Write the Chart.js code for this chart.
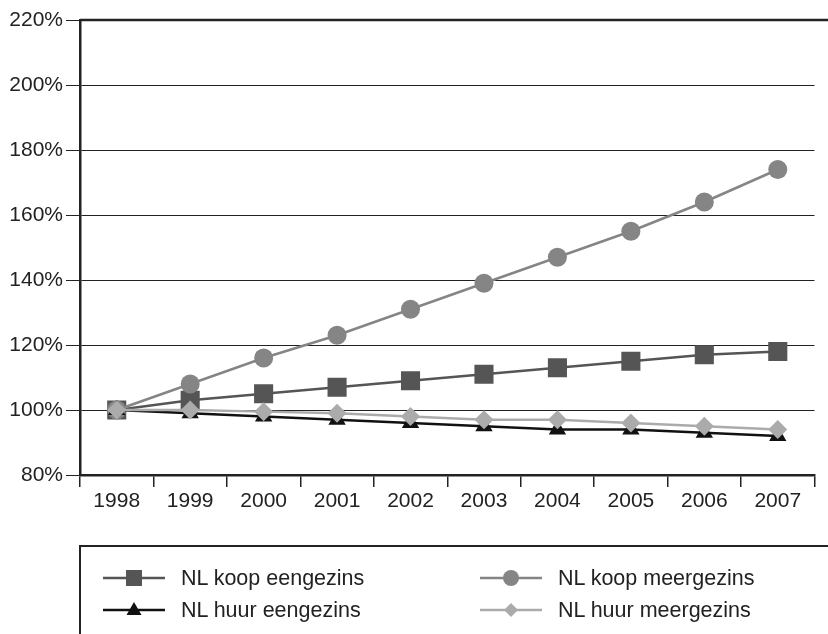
<!DOCTYPE html>
<html>
<head>
<meta charset="utf-8">
<script src="https://cdn.jsdelivr.net/npm/chart.js@4/dist/chart.umd.min.js"></script>
<style>
  html, body { margin:0; padding:0; background:#fff; }
  #wrap { position:relative; width:828px; height:634px; overflow:hidden; font-family:"Liberation Sans", Arial, sans-serif; }
  #c { position:absolute; left:0; top:0; }
  #legend { position:absolute; left:79px; top:545px; width:760px; height:100px; border-top:2px solid #222; border-left:2px solid #222; }
  .item { position:absolute; height:26px; display:flex; align-items:center; font-size:21.5px; color:#222; }
  .item svg { margin-right:16px; }
</style>
</head>
<body>
<div id="wrap">
  <canvas id="c" width="828" height="634"></canvas>
  <div id="legend"></div>
</div>
<script>
const years = ['1998','1999','2000','2001','2002','2003','2004','2005','2006','2007'];
const koopEengezins = [100, 103, 105, 107, 109, 111, 113, 115, 117, 118];
const koopMeergezins = [100, 108, 116, 123, 131, 139, 147, 155, 164, 174];
const huurEengezins = [100, 99, 98, 97, 96, 95, 94, 94, 93, 92];
const huurMeergezins = [100, 100, 99.5, 99, 98, 97, 97, 96, 95, 94];
const yTicks = [80, 100, 120, 140, 160, 180, 200, 220];

const series = [
  { label:'NL koop eengezins', data:koopEengezins, color:'#555555', style:'rect', radius:13.5, order:3 },
  { label:'NL koop meergezins', data:koopMeergezins, color:'#858585', style:'circle', radius:9.5, order:2 },
  { label:'NL huur eengezins', data:huurEengezins, color:'#111111', style:'triangle', radius:10, order:1 },
  { label:'NL huur meergezins', data:huurMeergezins, color:'#ababab', style:'rectRot', radius:9.5, order:0 }
];

const FONT = '"Liberation Sans", Arial, sans-serif';

const topBorder = {
  id:'topBorder',
  afterDraw(chart){
    const c = chart.ctx, a = chart.chartArea, y = chart.scales.y.getPixelForValue(220);
    c.save();
    c.strokeStyle = '#222'; c.lineWidth = 2.5;
    c.beginPath(); c.moveTo(a.left, y); c.lineTo(chart.width, y); c.stroke();
    c.restore();
  }
};

const ctx = document.getElementById('c').getContext('2d');
new Chart(ctx, {
  type:'line',
  data:{
    labels: years,
    datasets: series.map(s => ({
      label:s.label, data:s.data, borderColor:s.color, backgroundColor:s.color,
      pointStyle:s.style, pointRadius:s.radius, pointHoverRadius:s.radius,
      pointBorderWidth:0, borderWidth:2.5, tension:0, order:s.order
    }))
  },
  plugins:[topBorder],
  options:{
    responsive:false, animation:false,
    layout:{ padding:{ top:20, right:0, left:0, bottom:0 } },
    plugins:{ legend:{ display:false }, tooltip:{ enabled:false } },
    scales:{
      x:{
        offset:true,
        grid:{ offset:true, drawOnChartArea:false, drawTicks:true, tickLength:12, color:'#222', lineWidth:1.5 },
        border:{ display:true, color:'#222', width:2.5 },
        ticks:{ font:{ family:FONT, size:21 }, color:'#222', padding:2, maxRotation:0 },
        afterFit:(s)=>{ s.height = 159; }
      },
      y:{
        min:80, max:220,
        afterBuildTicks:(s)=>{ s.ticks = yTicks.map(v=>({value:v})); },
        grid:{ color:'#222', lineWidth:1, tickLength:14 },
        border:{ display:true, color:'#222', width:2.5 },
        ticks:{ font:{ family:FONT, size:21 }, color:'#222', padding:3, callback:(v)=> v + '%' },
        afterFit:(s)=>{ s.width = 80; }
      }
    }
  }
});

// HTML legend
function symbol(s){
  const w = 62, h = 24, cx = 31, cy = 12;
  let m = '';
  if (s.style === 'rect') m = `<rect x="${cx-8}" y="${cy-8}" width="16" height="16" fill="${s.color}"/>`;
  else if (s.style === 'circle') m = `<circle cx="${cx}" cy="${cy}" r="8" fill="${s.color}"/>`;
  else if (s.style === 'triangle') m = `<polygon points="${cx},${cy-8} ${cx+7.5},${cy+5} ${cx-7.5},${cy+5}" fill="${s.color}"/>`;
  else m = `<polygon points="${cx},${cy-7} ${cx+7},${cy} ${cx},${cy+7} ${cx-7},${cy}" fill="${s.color}"/>`;
  return `<svg width="${w}" height="${h}"><line x1="0" y1="${cy}" x2="${w}" y2="${cy}" stroke="${s.color}" stroke-width="2.5"/>${m}</svg>`;
}
const pos = [ [22,18], [399,18], [22,50], [399,50] ];
const lg = document.getElementById('legend');
[0,1,2,3].forEach((i,k)=>{
  const s = series[i];
  const d = document.createElement('div');
  d.className = 'item';
  d.style.left = pos[k][0] + 'px';
  d.style.top = pos[k][1] + 'px';
  d.innerHTML = symbol(s) + '<span>' + s.label + '</span>';
  lg.appendChild(d);
});
</script>
</body>
</html>
